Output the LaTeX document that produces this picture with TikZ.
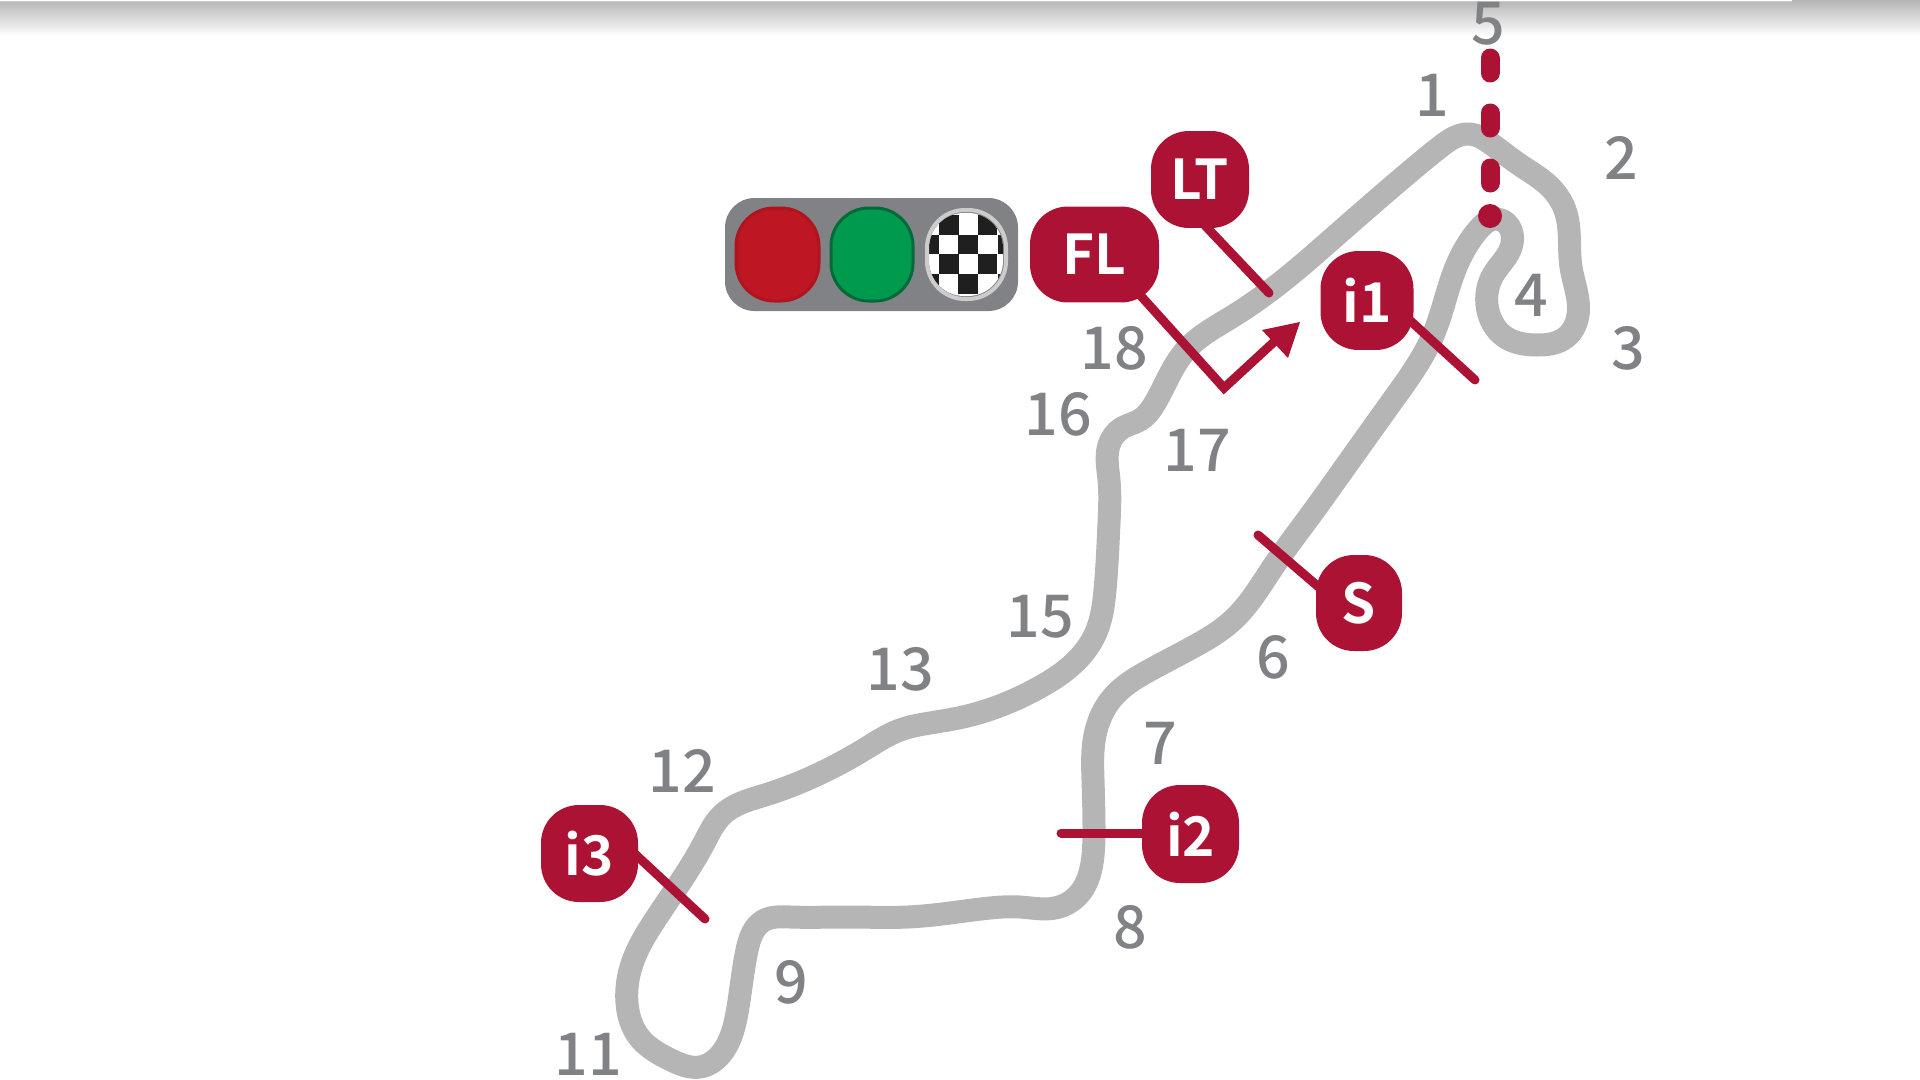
\documentclass[tikz,border=0pt]{standalone}
\usepackage{fontspec}
\newfontfamily\numfont{Noto Sans CJK SC Medium}
\newfontfamily\tagfont{Noto Sans CJK SC Bold}
\usetikzlibrary{calc,arrows.meta,hobby}
\definecolor{trackc}{HTML}{B5B5B5}
\definecolor{crim}{HTML}{AB1233}
\definecolor{txtc}{HTML}{808285}
\definecolor{redl}{HTML}{BE1622}
\definecolor{redd}{HTML}{B0141F}
\definecolor{greenl}{HTML}{009A4E}
\definecolor{greend}{HTML}{006B38}
\newcommand{\pxu}{1.4226pt}
\tikzset{
  trackline/.style={draw=trackc,line width=23*\pxu,line join=round},
  lead/.style={draw=crim,line width=9*\pxu,line cap=round,line join=miter},
  tag/.style={fill=crim,text=white,rounded corners=54pt,inner sep=0pt,font=\fontsize{78}{78}\tagfont,align=center},
  turn/.style={text=txtc,inner sep=0pt,font=\fontsize{84}{84}\numfont},
  lamp/.style={rounded corners=54pt,line width=3*\pxu},
}
\begin{document}
\begin{tikzpicture}[x=0.05cm,y=-0.05cm]
\useasboundingbox (0,0) rectangle (1920,1080);
\clip (0,0) rectangle (1920,1080);
% top shade
\shade[top color=trackc,bottom color=white] (0,0) rectangle (1920,36);
\fill[white] (0,0) rectangle (1792,1);
\fill[trackc!70] (0,1) rectangle (1792,2);
% track
\draw[trackline,use Hobby shortcut,closed=true]
 (1470,134) .. (1490,143) .. (1520,165) .. (1548,185) .. (1565,210) .. (1571,267) .. (1578,315) .. (1565,338) .. (1537,345)
 .. (1505,337) .. (1487,305) .. (1493,275) .. (1510,250) .. (1511,230) .. (1497,219) .. (1478,230) .. (1456,267)
 .. (1434,333) .. (1393,400) .. (1343,470) .. (1307,520) .. (1273,567) .. (1233,620) .. (1193,647) .. (1150,670) .. (1113,697) .. (1095,735)
 .. (1093,780) .. (1094,830) .. (1092,863) .. (1080,893) .. (1055,908) .. (1020,907) .. (990,908) .. (950,913) .. (908,917) .. (850,917) .. (790,917) .. (763,921)
 .. (747,950) .. (737,1013) .. (724,1050) .. (700,1067) .. (671,1060) .. (639,1037) .. (627,1003) .. (631,967)
 .. (655,920) .. (704,843) .. (722,815) .. (765,795) .. (827,770) .. (865,749) .. (900,730) .. (930,723) .. (963,717) .. (1007,703) .. (1040,687)
 .. (1080,657) .. (1097,630) .. (1105,590) .. (1109,523) .. (1109,480) .. (1109,445) .. (1122,428) .. (1140,420) .. (1155,403) .. (1186,350)
 .. (1230,318) .. (1271,290) .. (1340,232) .. (1400,180) .. (1440,147);
% start line dashes
\draw[draw=crim,line width=19*\pxu,line cap=round]
  (1490,58)--(1490,73) (1490,113)--(1490,128) (1490,168)--(1490,183);
\fill[crim] (1490,216) circle (12);
% traffic light panel
\fill[fill=txtc,rounded corners=42pt] (725,198) rectangle (1018,311);
\draw[lamp,fill=redl,draw=redd] (736,208) rectangle (819,301);
\draw[lamp,fill=greenl,draw=greend] (831,208) rectangle (913,301);
\begin{scope}
 \path[clip,rounded corners=50pt] (929,213) rectangle (1003,296);
 \fill[white] (925,210) rectangle (1008,300);
 \foreach \cx/\cy in {939/215,977.5/215,
   919/234.5,958/234.5,998/234.5,
   939/254,977.5/254,
   919/274,958/274,998/274}{
   \fill[black!88] (\cx,\cy) rectangle ++(19.5,19.5);}
\end{scope}
\draw[lamp,draw=black!20,line width=4*\pxu] (927,210) rectangle (1006,299);
% tags
\node[tag,minimum width=129*\pxu,minimum height=96*\pxu] (fl) at (1094.5,254.5) {\raisebox{-2pt}{FL}};
\node[tag,minimum width=98*\pxu,minimum height=97*\pxu] (lt) at (1200,179.5) {\raisebox{-2pt}{LT}};
\node[tag,minimum width=93*\pxu,minimum height=99*\pxu] (ione) at (1367,300.5) {i1};
\node[tag,minimum width=86*\pxu,minimum height=96*\pxu] (sec) at (1359,603) {S};
\node[tag,minimum width=97*\pxu,minimum height=98*\pxu] (itwo) at (1190.5,834) {i2};
\node[tag,minimum width=97*\pxu,minimum height=97*\pxu] (ithree) at (589.5,853.5) {i3};
% connectors
\coordinate (lte) at (1269,293);
\coordinate (fle) at (1224,388);
\coordinate (flt) at (1288,329);
\coordinate (ie1) at (1475,380);
\coordinate (se) at (1258,535);
\coordinate (ie2) at (1061,833);
\coordinate (ie3) at (705,919);
\draw[lead] ($(lt)+(5,46)$) -- (lte);
\draw[lead,line cap=butt] ($(fl)+(46,41)$) -- (fle) -- (flt);
\fill[crim] (1300,322) -- (1262,330) -- (1288,358) -- cycle;
\draw[lead] ($(ione)+(42,19)$) -- (ie1);
\draw[lead] ($(sec)+(-38,-14)$) -- (se);
\draw[lead] ($(itwo)+(-46,-1)$) -- (ie2);
\draw[lead] ($(ithree)+(46,1)$) -- (ie3);
% turn numbers
\node[turn] (t1) at (1432,95) {1};
\node[turn] (t2) at (1621,158) {2};
\node[turn] (t3) at (1628,348) {3};
\node[turn] (t4) at (1531,295) {4};
\node[turn] (t5) at (1488,24) {5};
\node[turn] (t6) at (1273,657) {6};
\node[turn] (t7) at (1160,743) {7};
\node[turn] (t8) at (1130,927) {8};
\node[turn] (t9) at (791,982) {9};
\node[turn] (t11) at (588,1054) {11};
\node[turn] (t12) at (682,771) {12};
\node[turn] (t13) at (900,669) {13};
\node[turn] (t15) at (1040,617) {15};
\node[turn] (t16) at (1058,414) {16};
\node[turn] (t17) at (1197,450) {17};
\node[turn] (t18) at (1114,348) {18};
\end{tikzpicture}
\end{document}
